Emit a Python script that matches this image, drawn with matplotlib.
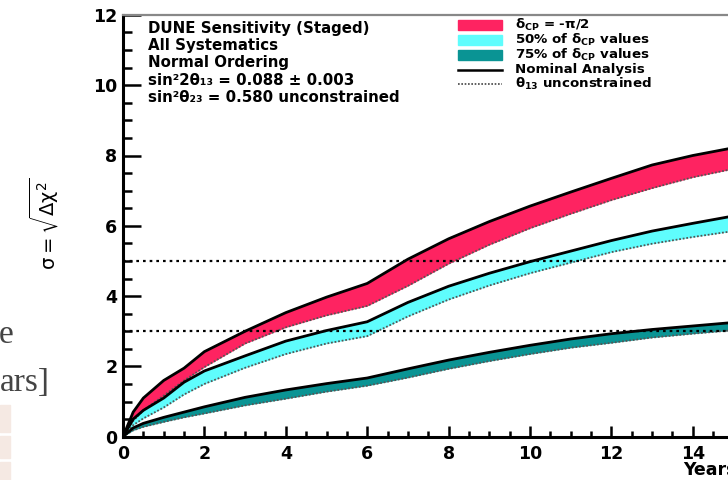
import numpy as np
import matplotlib
matplotlib.use('Agg')
import matplotlib.pyplot as plt
from matplotlib.patches import Rectangle

plt.rcParams['font.family'] = ['DejaVu Sans']
plt.rcParams['mathtext.fontset'] = 'dejavusans'
plt.rcParams['mathtext.default'] = 'regular'

# exposure in years
years = [0, 0.25, 0.5, 1, 1.5, 2, 3, 4, 5, 6, 7, 8, 9, 10, 11, 12, 13, 14, 15]

# delta_CP = -pi/2 band (nominal on top, theta13 unconstrained at bottom)
red_hi = [0, 0.70, 1.10, 1.60, 1.95, 2.42, 3.00, 3.53, 3.97, 4.36, 5.05, 5.63,
          6.12, 6.56, 6.96, 7.35, 7.73, 8.00, 8.22]
red_lo = [0, 0.45, 0.75, 1.17, 1.60, 1.98, 2.65, 3.11, 3.45, 3.72, 4.29, 4.92,
          5.46, 5.93, 6.34, 6.73, 7.07, 7.38, 7.62]

# 50% of delta_CP values
cyan_hi = [0, 0.50, 0.75, 1.10, 1.55, 1.87, 2.30, 2.72, 3.02, 3.27, 3.82, 4.28,
           4.65, 4.98, 5.28, 5.58, 5.85, 6.07, 6.28]
cyan_lo = [0, 0.33, 0.52, 0.83, 1.20, 1.50, 1.96, 2.35, 2.65, 2.86, 3.42, 3.90,
           4.30, 4.65, 4.95, 5.25, 5.49, 5.68, 5.85]

# 75% of delta_CP values
teal_hi = [0, 0.25, 0.38, 0.55, 0.70, 0.85, 1.12, 1.33, 1.51, 1.67, 1.93, 2.18,
           2.40, 2.60, 2.78, 2.93, 3.05, 3.15, 3.25]
teal_lo = [0, 0.18, 0.28, 0.42, 0.55, 0.66, 0.89, 1.08, 1.28, 1.45, 1.68, 1.93,
           2.15, 2.35, 2.53, 2.67, 2.82, 2.93, 3.03]

sigma_lines = [3, 5]

info = ['DUNE Sensitivity (Staged)', 'All Systematics', 'Normal Ordering',
        'sin²2θ₁₃ = 0.088 ± 0.003', 'sin²θ₂₃ = 0.580 unconstrained']
leg_labels = [r'$\delta_{CP}$ = -π/2', r'50% of $\delta_{CP}$ values',
              r'75% of $\delta_{CP}$ values', 'Nominal Analysis',
              r'$\theta_{13}$ unconstrained']

c_red = '#fe2361'
c_cyan = '#5ffdfd'
c_teal = '#0a9494'

fig = plt.figure(figsize=(7.28, 4.80), dpi=100)
ax = fig.add_axes([123/728, 43.3/480, 610.5/728, 421.8/480])


def ax_xy(px, py):
    # picture pixel -> axes fraction
    return (px - 123) / 610.5, (436.7 - py) / 421.8


for lo, hi, col in [(red_lo, red_hi, c_red), (cyan_lo, cyan_hi, c_cyan),
                    (teal_lo, teal_hi, c_teal)]:
    ax.fill_between(years, lo, hi, color=col, lw=0)
    ax.plot(years, lo, color='#555555', lw=1.3, ls=(0, (1, 1)))
    ax.plot(years, hi, color='black', lw=2.0)

for s in sigma_lines:
    ax.axhline(s, color='black', lw=1.6, ls=(0, (1.2, 1.8)))

ax.set_xlim(0, 15)
ax.set_ylim(0, 12)
ax.set_xticks(np.arange(0, 15, 2))
ax.set_xticks(np.arange(0, 15.1, 0.5), minor=True)
ax.set_yticks(np.arange(0, 12.1, 2))
ax.set_yticks(np.arange(0, 12.1, 0.5), minor=True)

ax.tick_params(axis='y', which='major', direction='in', length=13, width=1.8, pad=4,
               labelsize=12.5)
ax.tick_params(axis='y', which='minor', direction='in', length=6.5, width=1.8)
ax.tick_params(axis='x', which='major', direction='in', length=8, width=1.8, pad=6,
               labelsize=12.5)
ax.tick_params(axis='x', which='minor', direction='in', length=4, width=1.8)
for lab in ax.get_xticklabels() + ax.get_yticklabels():
    lab.set_fontweight('bold')

ax.spines['left'].set_linewidth(2.2)
ax.spines['bottom'].set_linewidth(2.2)
ax.spines['top'].set_color('#888888')
ax.spines['top'].set_linewidth(1.6)
ax.spines['right'].set_visible(False)

ax.text(1.005, -0.08, 'Years', transform=ax.transAxes, ha='right', va='center',
        fontsize=12.5, fontweight='bold')
fig.text(44/728, 1 - 224/480, r'$\sigma = \sqrt{\Delta\chi^2}$', rotation=90,
         ha='center', va='center', fontsize=14)

for i, t in enumerate(info):
    x, y = ax_xy(148, 28.5 + 17.2*i)
    ax.text(x, y, t, transform=ax.transAxes, ha='left', va='center',
            fontsize=10.8, fontweight='bold')

# legend, laid out row by row
rows = [25, 40, 55, 70, 84]
for i, (py, lab) in enumerate(zip(rows, leg_labels)):
    x0, y0 = ax_xy(458, py + 5)
    x1, y1 = ax_xy(502, py - 5)
    if i < 3:
        col = [c_red, c_cyan, c_teal][i]
        ax.add_patch(Rectangle((x0, y0), x1 - x0, y1 - y0, transform=ax.transAxes,
                               color=col, clip_on=False))
    elif i == 3:
        ax.plot([x0, x1], [(y0 + y1)/2]*2, transform=ax.transAxes, color='black',
                lw=1.8, clip_on=False)
    else:
        ax.plot([x0, x1], [(y0 + y1)/2]*2, transform=ax.transAxes, color='#444444',
                lw=1.2, ls=(0, (1, 1)), clip_on=False)
    tx, ty = ax_xy(515, py)
    ax.text(tx, ty, lab, transform=ax.transAxes, ha='left', va='center',
            fontsize=9.6, fontweight='bold')

# slide fragments visible at the left edge
fig.text(13/728, 1 - 343/480, 'e', ha='right', va='baseline', fontsize=24,
         family='Liberation Serif', color='#444444')
fig.text(50/728, 1 - 391/480, 'ars]', ha='right', va='baseline', fontsize=24,
         family='Liberation Serif', color='#444444')
for y0, y1 in [(405, 432), (436, 458), (462, 480)]:
    fig.patches.append(Rectangle((0, 1 - y1/480), 10/728, (y1 - y0)/480,
                                 transform=fig.transFigure, color='#f5e9e3'))

fig.savefig('out.png', dpi=100)
